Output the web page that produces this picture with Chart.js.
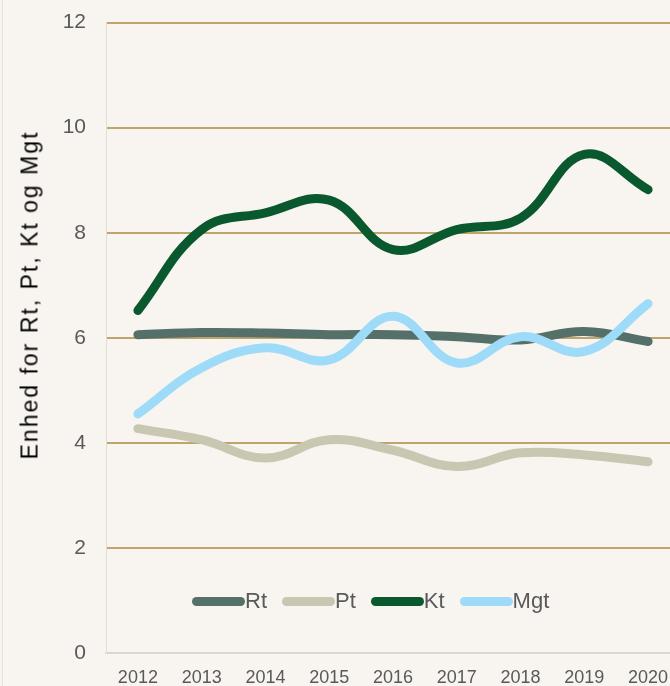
<!DOCTYPE html>
<html lang="da">
<head>
<meta charset="UTF-8">
<title>Rt, Pt, Kt og Mgt</title>
<style>
    html, body {
        margin: 0;
        padding: 0;
        background: #f8f5f0;
        overflow: hidden;
    }
    .wrap {
        position: relative;
        width: 670px;
        height: 686px;
        overflow: hidden;
        font-family: "Liberation Sans", Arial, sans-serif;
    }
    .edge {
        position: absolute;
        left: 2px;
        top: 0;
        width: 1px;
        height: 686px;
        background: #e4e1dc;
    }
    .chart-box {
        position: absolute;
        left: 0;
        top: -10px;
        width: 680px;
        height: 696px;
    }
    .y-title {
        position: absolute;
        left: 30px;
        top: 295px;
        transform: translate(-50%, -50%) rotate(-90deg);
        white-space: nowrap;
        font-size: 23px;
        letter-spacing: 2px;
        color: #000;
    }
    .legend {
        position: absolute;
        left: 192px;
        top: 588px;
        display: flex;
        align-items: center;
        font-size: 22px;
        color: #595959;
    }
    .legend .item {
        display: flex;
        align-items: center;
        margin-right: 15px;
    }
    .legend .mark {
        width: 53px;
        height: 9px;
        border-radius: 5px;
    }
</style>
</head>
<body>
<div class="wrap">
    <div class="edge"></div>
    <div class="chart-box"><canvas id="chart"></canvas></div>
    <div class="y-title">Enhed for Rt, Pt, Kt og Mgt</div>
    <div class="legend" id="legend"></div>
</div>

<script src="https://cdn.jsdelivr.net/npm/chart.js"></script>
<script>
    const years = ['2012', '2013', '2014', '2015', '2016', '2017', '2018', '2019', '2020'];
    const rt  = [6.06, 6.10, 6.09, 6.06, 6.06, 6.02, 5.96, 6.12, 5.93];
    const pt  = [4.27, 4.06, 3.71, 4.06, 3.86, 3.55, 3.81, 3.77, 3.64];
    const kt  = [6.52, 8.06, 8.38, 8.62, 7.68, 8.06, 8.28, 9.49, 8.82];
    const mgt = [4.55, 5.43, 5.81, 5.58, 6.41, 5.52, 6.02, 5.74, 6.65];
    const yTicks = [0, 2, 4, 6, 8, 10, 12];

    const seriesNames = ['Rt', 'Pt', 'Kt', 'Mgt'];
    const seriesValues = [rt, pt, kt, mgt];
    const seriesColors = ['#557068', '#c8c7b2', '#0a582d', '#9edbf8'];

    const datasets = seriesNames.map((name, i) => ({
        label: name,
        data: seriesValues[i],
        borderColor: seriesColors[i],
        backgroundColor: seriesColors[i],
        borderWidth: 9,
        borderCapStyle: 'round',
        borderJoinStyle: 'round',
        pointRadius: 0,
        tension: 0.4,
        fill: false,
        order: seriesNames.length - i
    }));

    // legend sits inside the plot, so build it by hand
    const legend = document.getElementById('legend');
    seriesNames.forEach((name, i) => {
        const item = document.createElement('div');
        item.className = 'item';
        const mark = document.createElement('span');
        mark.className = 'mark';
        mark.style.background = seriesColors[i];
        const txt = document.createElement('span');
        txt.textContent = name;
        item.appendChild(mark);
        item.appendChild(txt);
        legend.appendChild(item);
    });

    const ctx = document.getElementById('chart').getContext('2d');
    new Chart(ctx, {
        type: 'line',
        data: { labels: years, datasets: datasets },
        options: {
            responsive: true,
            maintainAspectRatio: false,
            animation: false,
            layout: { padding: { top: 2, right: 0, bottom: 0, left: 0 } },
            plugins: {
                legend: { display: false },
                tooltip: { enabled: false }
            },
            scales: {
                x: {
                    offset: true,
                    grid: { display: false },
                    border: { display: true, color: '#d9d7d2', width: 2 },
                    ticks: {
                        color: '#595959',
                        font: { family: '"Liberation Sans", Arial, sans-serif', size: 18 },
                        padding: 6,
                        maxRotation: 0,
                        autoSkip: false
                    },
                    afterFit: (s) => { s.height = 33; }
                },
                y: {
                    min: 0,
                    max: 12,
                    afterBuildTicks: (s) => { s.ticks = yTicks.map(v => ({ value: v })); },
                    grid: {
                        color: (c) => c.tick && c.tick.value === 0 ? 'rgba(0,0,0,0)' : '#c0a46e',
                        lineWidth: 2,
                        tickLength: 0
                    },
                    border: { display: true, color: '#e2dfda', width: 1 },
                    ticks: {
                        color: '#595959',
                        font: { family: '"Liberation Sans", Arial, sans-serif', size: 21 },
                        padding: 20
                    },
                    afterFit: (s) => { s.width = 106; }
                }
            }
        }
    });
</script>
</body>
</html>
